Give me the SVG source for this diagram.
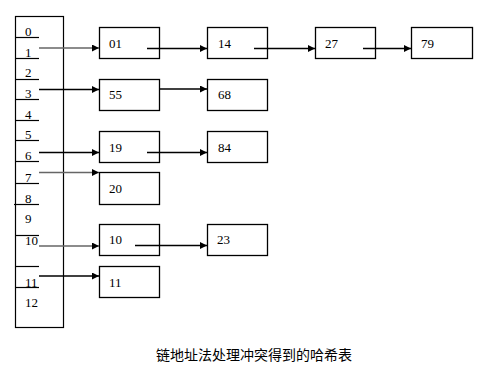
<svg xmlns="http://www.w3.org/2000/svg" width="484" height="377" viewBox="0 0 484 377">
<style>
.t{font-family:"Liberation Serif","Times New Roman",serif;font-size:13px;fill:#000}
.box{fill:#fff;stroke:#000;stroke-width:1.3}
.sep{stroke:#000;stroke-width:1.2}
.ln{stroke:#000;stroke-width:1.3;fill:none;marker-end:url(#ah)}
.g{stroke:#666}
.cap{font-family:"Noto Sans CJK SC","Noto Sans CJK TC",sans-serif;font-size:14px;fill:#000}
</style>
<defs>
<marker id="ah" markerUnits="userSpaceOnUse" markerWidth="8" markerHeight="8" refX="7" refY="3.5" orient="auto">
<path d="M0,0 L7,3.5 L0,7 Z" fill="#000"/>
</marker>
</defs>
<rect width="484" height="377" fill="#fff"/>
<g id="table">
<rect x="15.5" y="16.5" width="48" height="311" fill="#fff" stroke="#000" stroke-width="1.2"/>
<line class="sep" x1="15" y1="37.5" x2="39" y2="37.5"/>
<line class="sep" x1="15" y1="58.5" x2="39" y2="58.5"/>
<line class="sep" x1="15" y1="79.5" x2="39" y2="79.5"/>
<line class="sep" x1="15" y1="99.5" x2="39" y2="99.5"/>
<line class="sep" x1="15" y1="120.5" x2="39" y2="120.5"/>
<line class="sep" x1="15" y1="140.5" x2="39" y2="140.5"/>
<line class="sep" x1="15" y1="161.5" x2="39" y2="161.5"/>
<line class="sep" x1="15" y1="183.5" x2="39" y2="183.5"/>
<line class="sep" x1="14" y1="204.5" x2="39" y2="204.5" stroke="#666"/>
<line class="sep" x1="15" y1="235.5" x2="39" y2="235.5"/>
<line class="sep" x1="15" y1="266.5" x2="39" y2="266.5"/>
<line class="sep" x1="15" y1="287.5" x2="39" y2="287.5"/>
<text class="t" x="25" y="36">0</text>
<text class="t" x="25" y="57">1</text>
<text class="t" x="25" y="77">2</text>
<text class="t" x="25" y="98">3</text>
<text class="t" x="25" y="119">4</text>
<text class="t" x="25" y="139">5</text>
<text class="t" x="25" y="160">6</text>
<text class="t" x="25" y="182">7</text>
<text class="t" x="25" y="203">8</text>
<text class="t" x="25" y="223">9</text>
<text class="t" x="25" y="245">10</text>
<text class="t" x="25" y="287">11</text>
<text class="t" x="25" y="307">12</text>
</g>
<g id="n01"><rect class="box" x="99.5" y="27.5" width="60" height="31"/><text class="t" x="109" y="48">01</text></g>
<g id="n14"><rect class="box" x="207.5" y="27.5" width="60" height="31"/><text class="t" x="218" y="48">14</text></g>
<g id="n27"><rect class="box" x="315.5" y="27.5" width="60" height="31"/><text class="t" x="325" y="48">27</text></g>
<g id="n79"><rect class="box" x="411.5" y="27.5" width="61" height="31"/><text class="t" x="421" y="48">79</text></g>
<g id="n55"><rect class="box" x="99.5" y="79.5" width="60" height="31"/><text class="t" x="109" y="99">55</text></g>
<g id="n68"><rect class="box" x="207.5" y="79.5" width="60" height="31"/><text class="t" x="218" y="99">68</text></g>
<g id="n19"><rect class="box" x="99.5" y="131.5" width="60" height="31"/><text class="t" x="109" y="152">19</text></g>
<g id="n84"><rect class="box" x="207.5" y="131.5" width="60" height="31"/><text class="t" x="218" y="152">84</text></g>
<g id="n20"><rect class="box" x="99.5" y="172.5" width="60" height="32"/><text class="t" x="109" y="193">20</text></g>
<g id="n10"><rect class="box" x="99.5" y="224.5" width="60" height="31"/><text class="t" x="109" y="244">10</text></g>
<g id="n23"><rect class="box" x="207.5" y="224.5" width="60" height="31"/><text class="t" x="217" y="244">23</text></g>
<g id="n11"><rect class="box" x="99.5" y="266.5" width="60" height="31"/><text class="t" x="109" y="287">11</text></g>
<g id="connectors">
<line class="ln g" x1="39" y1="48" x2="99" y2="48"/>
<line class="ln" x1="39" y1="89.5" x2="99" y2="89.5"/>
<line class="ln" x1="39" y1="152.5" x2="99" y2="152.5"/>
<line class="ln g" x1="39" y1="172.5" x2="99" y2="172.5"/>
<line class="ln g" x1="39" y1="246" x2="99" y2="246"/>
<line class="ln" x1="39" y1="276" x2="99" y2="276"/>
<line class="ln" x1="147" y1="48.5" x2="207" y2="48.5"/>
<line class="ln" x1="254" y1="48.5" x2="315" y2="48.5"/>
<line class="ln" x1="363" y1="48.5" x2="411" y2="48.5"/>
<line class="ln" x1="160" y1="89" x2="207" y2="89"/>
<line class="ln" x1="147" y1="152.5" x2="207" y2="152.5"/>
<line class="ln" x1="135" y1="245.5" x2="207" y2="245.5"/>
</g>
<text class="cap" x="156" y="360">链地址法处理冲突得到的哈希表</text>
</svg>
